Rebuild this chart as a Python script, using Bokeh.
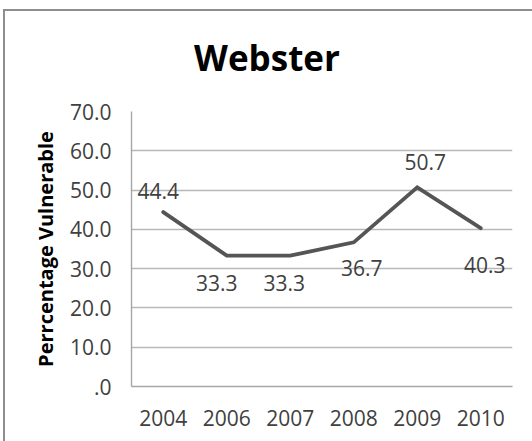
from bokeh.plotting import figure
from bokeh.layouts import column
from bokeh.models import ColumnDataSource, Range1d, FixedTicker, FactorRange, Label
from bokeh.core.properties import value
from bokeh.embed import file_html
from bokeh.resources import INLINE

# ---- data ----
years = ["2004", "2006", "2007", "2008", "2009", "2010"]
pct_vulnerable = [44.4, 33.3, 33.3, 36.7, 50.7, 40.3]
value_labels = ["44.4", "33.3", "33.3", "36.7", "50.7", "40.3"]
y_ticks = [0, 10, 20, 30, 40, 50, 60, 70]
y_tick_labels = [".0", "10.0", "20.0", "30.0", "40.0", "50.0", "60.0", "70.0"]
chart_title = "Webster"
y_axis_title = "Perrcentage Vulnerable"

# label placement (screen px offsets, style only)
label_dx = [-5, -10, -6, 8, 8, 4]
label_dy = [-21, 27, 27, 26, -25, 37]

FONT = "Open Sans"
W = 527

# ---- title strip ----
t = figure(width=W, height=85, title=None, output_backend="svg", toolbar_location=None,
           x_axis_location=None, y_axis_location=None,
           x_range=Range1d(0, 1), y_range=Range1d(0, 1),
           min_border_left=0, min_border_right=0, min_border_top=0, min_border_bottom=0)
t.outline_line_color = None
t.xgrid.visible = False
t.ygrid.visible = False
t.add_layout(Label(x=135.5, y=39, x_units="screen", y_units="screen",
                   text=chart_title, text_align="center", text_baseline="alphabetic",
                   text_font=FONT, text_font_style="bold", text_font_size="35px",
                   text_color="black"))

# ---- chart ----
p = figure(
    width=W, height=345, title=None,
    x_range=FactorRange(*years, range_padding=0),
    y_range=Range1d(y_ticks[0], y_ticks[-1]),
    output_backend="svg", toolbar_location=None,
    min_border_left=126, min_border_top=15,
    min_border_right=20, min_border_bottom=55,
)
p.outline_line_color = None
p.background_fill_color = "white"
p.border_fill_color = "white"

src = ColumnDataSource(dict(x=years, y=pct_vulnerable, lab=value_labels,
                            dx=label_dx, dy=label_dy))
p.line("x", "y", source=src, line_color="#555555", line_width=3.8,
       line_join="miter", line_cap="round")
p.text("x", "y", text="lab", source=src, x_offset="dx", y_offset="dy",
       text_align="center", text_baseline="middle",
       text_font=value(FONT), text_font_size="21px", text_color="#404040")

p.xgrid.visible = False
p.ygrid.grid_line_color = "#b8b8b8"
p.ygrid.grid_line_width = 1.4
p.yaxis.ticker = FixedTicker(ticks=y_ticks)
p.yaxis.major_label_overrides = {tk: lb for tk, lb in zip(y_ticks, y_tick_labels)}
for ax in (p.xaxis[0], p.yaxis[0]):
    ax.axis_line_color = "#a6a6a6"
    ax.axis_line_width = 1.4
    ax.major_tick_line_color = None
    ax.minor_tick_line_color = None
    ax.major_tick_in = 0
    ax.major_tick_out = 0
    ax.major_label_text_font = FONT
    ax.major_label_text_font_size = "21px"
    ax.major_label_text_color = "#404040"
p.yaxis.major_label_standoff = 20
p.xaxis.major_label_standoff = 23
p.yaxis.axis_label = y_axis_title
p.yaxis.axis_label_text_font = FONT
p.yaxis.axis_label_text_font_style = "bold"
p.yaxis.axis_label_text_font_size = "20px"
p.yaxis.axis_label_text_color = "black"
p.yaxis.axis_label_standoff = 8

layout = column(t, p, spacing=0)
layout.styles = {"border-left": "2px solid #8e8e8e", "border-top": "2px solid #8e8e8e",
                 "margin-left": "3px", "margin-top": "9px"}

open("out.html", "w").write(file_html(layout, INLINE))
